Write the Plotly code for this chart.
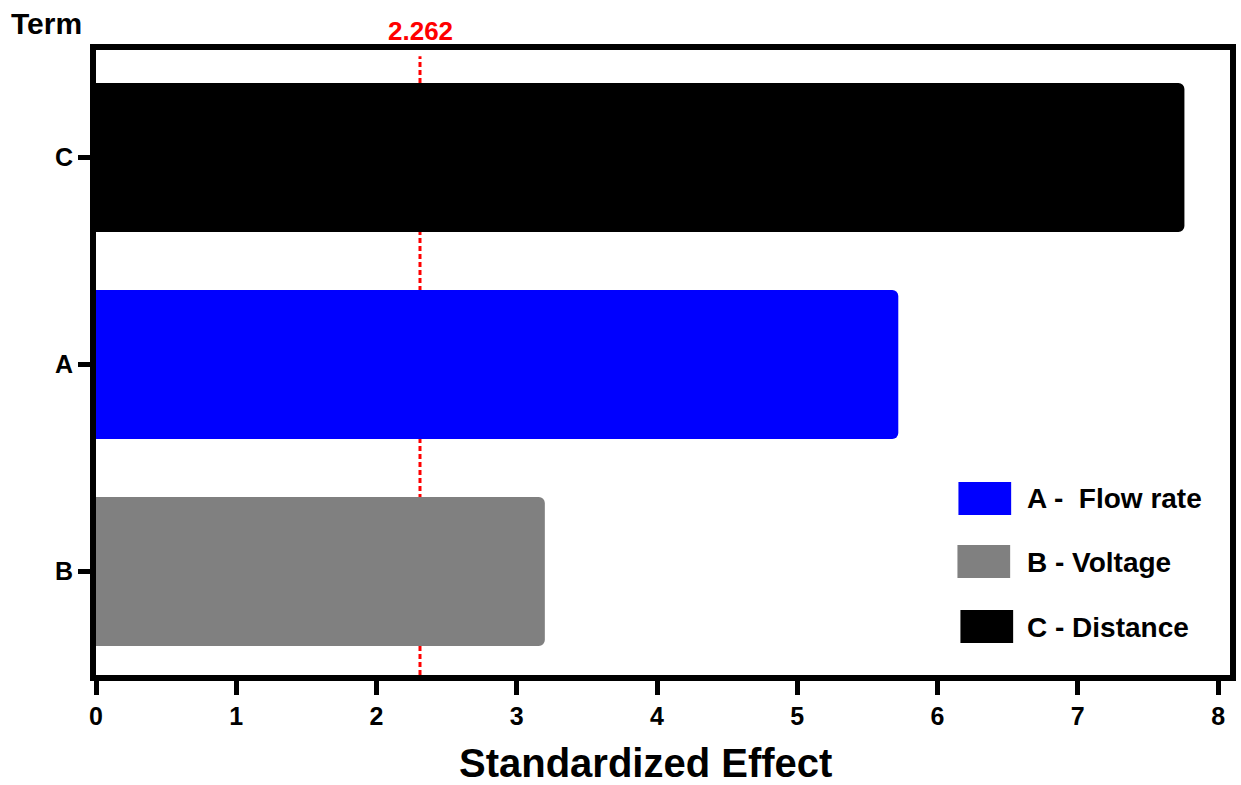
import plotly.graph_objects as go

terms = ["B", "A", "C"]
effects = [3.20, 5.72, 7.76]
colors = ["#808080", "#0000FF", "#000000"]
legend_labels = ["A -  Flow rate", "B - Voltage", "C - Distance"]
legend_colors = ["#0000FF", "#808080", "#000000"]
threshold_label = "2.262"
threshold_pos = 2.31
x_ticks = [0, 1, 2, 3, 4, 5, 6, 7, 8]

FONT = "Liberation Sans, Arial, sans-serif"
W, H = 1241, 785
L, R, T, B = 96, 5, 50, 110
pw, ph = W - L - R, H - T - B

def px_x(p):
    return (p - L) / pw

def px_y(p):
    return (H - B - p) / ph

fig = go.Figure()
for t, v, c in zip(terms, effects, colors):
    fig.add_trace(go.Bar(
        y=[t], x=[v], orientation="h",
        marker=dict(color=c, line=dict(width=0), cornerradius=6),
        width=0.72, showlegend=False, hoverinfo="skip",
    ))

fig.add_shape(type="line", xref="x", yref="paper",
              x0=threshold_pos, x1=threshold_pos, y0=0, y1=0.99,
              line=dict(color="red", width=3, dash="5px,3px"), layer="below")
fig.add_annotation(x=threshold_pos, xref="x", y=px_y(31), yref="paper",
                   yanchor="middle", text=threshold_label, showarrow=False,
                   font=dict(family=FONT, size=26, color="red", weight="bold"))
fig.add_annotation(xref="paper", yref="paper", x=px_x(9), y=px_y(23),
                   xanchor="left", yanchor="middle", text="Term", showarrow=False,
                   font=dict(family=FONT, size=30, color="black", weight="bold"))
fig.add_annotation(xref="paper", yref="paper", x=px_x(648), y=px_y(763),
                   xanchor="center", yanchor="middle", text="Standardized Effect",
                   showarrow=False,
                   font=dict(family=FONT, size=40, color="black", weight="bold"))

box_tops = [482, 545, 610]
box_x0 = [963, 962, 965]
for lab, col, top, bx in zip(legend_labels, legend_colors, box_tops, box_x0):
    fig.add_shape(type="rect", xref="paper", yref="paper",
                  x0=px_x(bx), x1=px_x(bx + 53), y0=px_y(top + 33), y1=px_y(top),
                  fillcolor=col, line=dict(width=0))
    fig.add_annotation(xref="paper", yref="paper", x=px_x(1030), y=px_y(top + 17),
                       xanchor="left", yanchor="middle", text=lab, showarrow=False,
                       font=dict(family=FONT, size=28, color="black", weight="bold"))

fig.update_layout(
    width=W, height=H,
    margin=dict(l=L, r=R, t=T, b=B),
    plot_bgcolor="white", paper_bgcolor="white",
    xaxis=dict(range=[0, 8.085], tickvals=x_ticks, showgrid=False, zeroline=False,
               showline=True, linecolor="black", linewidth=6, mirror=True,
               ticks="outside", ticklen=14, tickwidth=5, tickcolor="black",
               tickfont=dict(family=FONT, size=25, color="black", weight="bold")),
    yaxis=dict(categoryorder="array", categoryarray=terms, range=[-0.5, 2.52],
               showgrid=False, zeroline=False,
               showline=True, linecolor="black", linewidth=6, mirror=True,
               ticks="outside", ticklen=12, tickwidth=5, tickcolor="black",
               tickfont=dict(family=FONT, size=25, color="black", weight="bold")),
)

fig.write_html("out.html", config={"displayModeBar": False},
               post_script="document.body.style.margin='0px';document.body.style.overflow='hidden';")
